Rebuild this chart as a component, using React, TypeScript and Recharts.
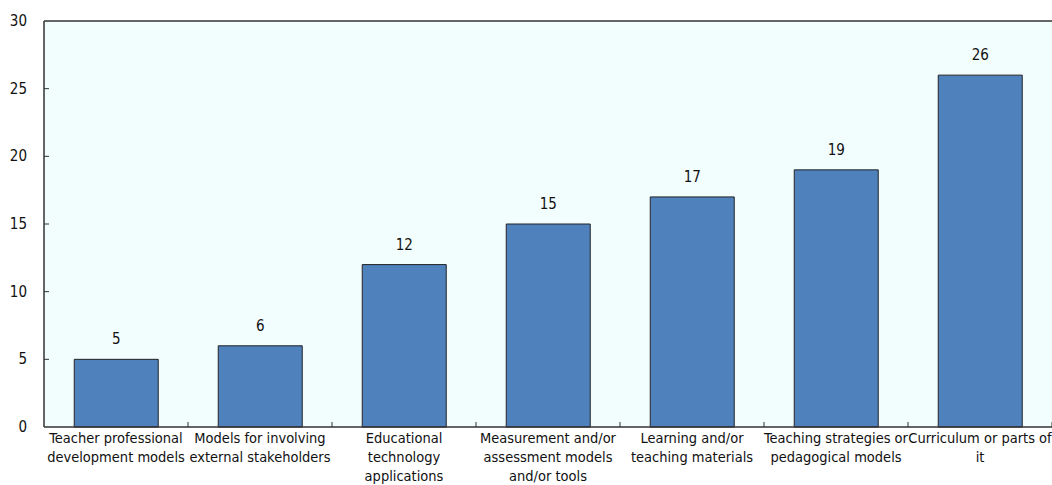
import { BarChart, Bar, XAxis, YAxis, CartesianGrid, LabelList } from "recharts";

const CATEGORIES = [
  "Teacher professional\ndevelopment models",
  "Models for involving\nexternal stakeholders",
  "Educational\ntechnology\napplications",
  "Measurement and/or\nassessment models\nand/or tools",
  "Learning and/or\nteaching materials",
  "Teaching strategies or\npedagogical models",
  "Curriculum or parts of\nit",
];
const VALUES = [5, 6, 12, 15, 17, 19, 26];
const Y_TICKS = [0, 5, 10, 15, 20, 25, 30];

const DATA = CATEGORIES.map((name, i) => ({ name, value: VALUES[i] }));

const W = 1052;
const H = 485;
const M = { top: 20, right: 0, bottom: 0, left: 0 };
const X_H = 58;
const Y_W = 44;
const PLOT_W = W - Y_W - M.right;
const STEP = PLOT_W / CATEGORIES.length;
const FONT = "'Liberation Sans Narrow', 'DejaVu Sans Condensed', 'Liberation Sans', Arial, sans-serif";
const AXIS = "#333333";

function XTick(props: any) {
  const { x, y, payload } = props;
  const lines = String(payload.value).split("\n");
  return (
    <g>
      <line x1={x + STEP / 2} x2={x + STEP / 2} y1={y} y2={y - 5} stroke={AXIS} strokeWidth={1} />
      <text x={x} y={y + 16} textAnchor="middle" fontSize={14.5} fill="#111" fontFamily={FONT}>
        {lines.map((l, i) => (
          <tspan key={i} x={x} dy={i === 0 ? 0 : 19}>{l}</tspan>
        ))}
      </text>
    </g>
  );
}

function YTick(props: any) {
  const { x, y, payload } = props;
  return (
    <g>
      {payload.value !== 0 && payload.value !== 30 && (
        <line x1={x} x2={x + 5} y1={y} y2={y} stroke={AXIS} strokeWidth={1} />
      )}
      <text x={x - 17} y={y + 5} textAnchor="end" fontSize={15} fill="#111" fontFamily={FONT}>
        {payload.value}
      </text>
    </g>
  );
}

export default function App() {
  return (
    <div style={{ position: "absolute", left: 0, top: 0, background: "#fff" }}>
      <BarChart width={W} height={H} data={DATA} margin={M} barCategoryGap="21%">
        <CartesianGrid horizontal={false} vertical={false} fill="#f2fdfe" />
        <XAxis
          dataKey="name"
          interval={0}
          height={X_H}
          axisLine={{ stroke: AXIS, strokeWidth: 1.5 }}
          tickLine={false}
          tickSize={0}
          tickMargin={0}
          tick={<XTick />}
        />
        <XAxis xAxisId="top" orientation="top" dataKey="name" height={1} tick={false} tickLine={false} axisLine={{ stroke: AXIS, strokeWidth: 1.5 }} />
        <YAxis
          width={Y_W}
          domain={[0, 30]}
          ticks={Y_TICKS}
          interval={0}
          axisLine={{ stroke: AXIS, strokeWidth: 1.5 }}
          tickLine={false}
          tickSize={0}
          tickMargin={0}
          tick={<YTick />}
        />
        <Bar dataKey="value" fill="#4f81bd" stroke="#222" strokeWidth={1} isAnimationActive={false}>
          <LabelList dataKey="value" position="top" offset={15} fontSize={15} fill="#111" fontFamily={FONT} />
        </Bar>
      </BarChart>
    </div>
  );
}
